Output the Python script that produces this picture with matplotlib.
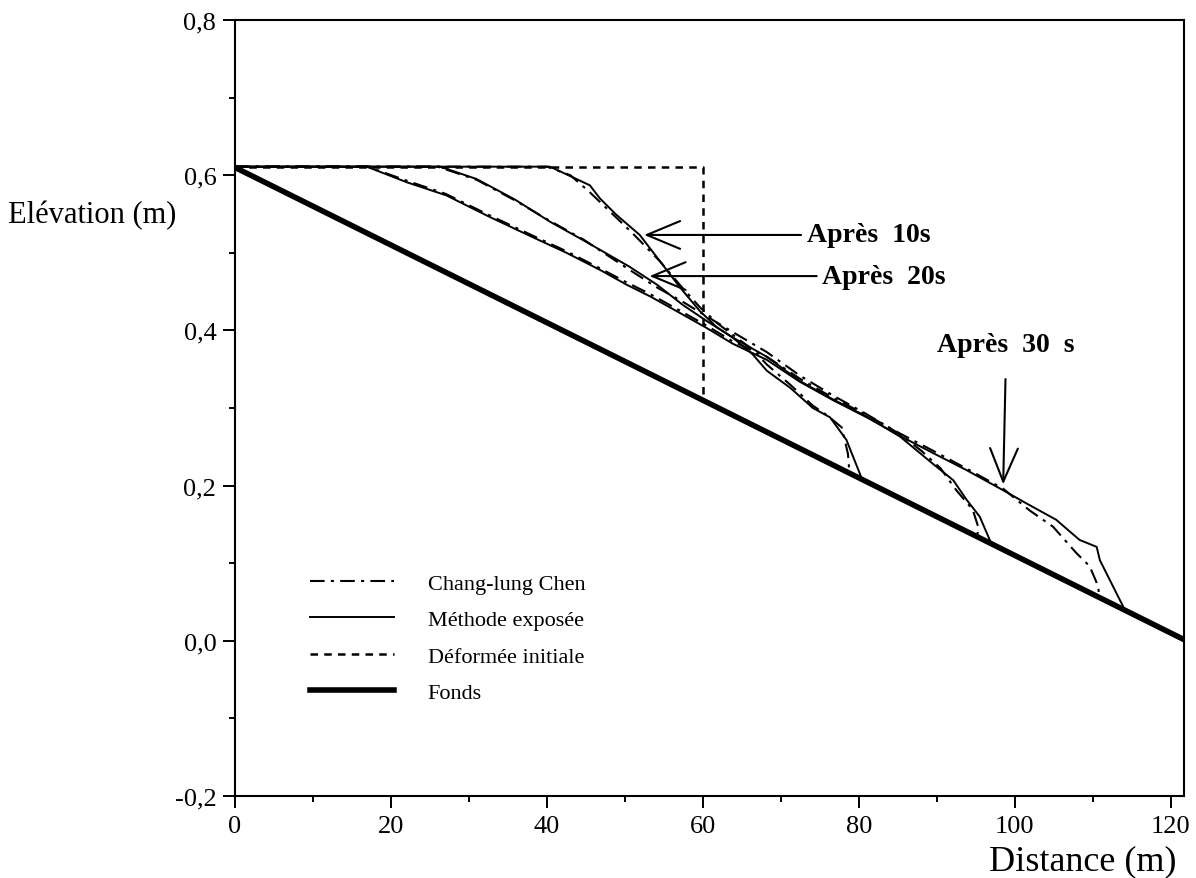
import matplotlib
matplotlib.use("Agg")
import matplotlib.pyplot as plt

plt.rcParams['font.family'] = ['Liberation Serif', 'DejaVu Serif']

# fond (bed)
fond_x = [0, 122]
fond_y = [0.61, 0.0]

# deformee initiale
init_x = [0, 60, 60]
init_y = [0.61, 0.61, 0.31]

# methode exposee
m10_x = [0, 40.4, 45.5, 46.8, 48.9, 51.9, 54.5, 57.1, 59.6, 61.8, 63.8, 66.4, 68.2, 71.2, 74.1, 76.3, 78.4, 80.3]
m10_y = [0.611, 0.611, 0.587, 0.570, 0.549, 0.523, 0.489, 0.455, 0.425, 0.404, 0.391, 0.369, 0.348, 0.326, 0.300, 0.288, 0.259, 0.211]

m20_x = [0, 26.3, 31.0, 36.0, 40.4, 44.7, 50.6, 54.1, 57.4, 60.5, 63.8, 68.2, 72.4, 76.7, 81.0, 85.3, 89.5, 92.1, 93.8, 95.5, 97.0]
m20_y = [0.611, 0.611, 0.595, 0.568, 0.540, 0.516, 0.482, 0.459, 0.433, 0.412, 0.391, 0.366, 0.335, 0.311, 0.289, 0.263, 0.228, 0.207, 0.182, 0.160, 0.125]

m30_x = [0, 16.9, 22.0, 27.1, 32.7, 38.2, 42.5, 46.8, 50.2, 53.2, 56.6, 60.5, 63.8, 68.2, 72.4, 76.7, 81.0, 85.3, 89.5, 93.8, 98.5, 101.5, 105.3, 108.3, 110.5, 110.9, 112.6, 114.1]
m30_y = [0.611, 0.611, 0.591, 0.574, 0.546, 0.520, 0.500, 0.478, 0.459, 0.444, 0.425, 0.403, 0.383, 0.362, 0.334, 0.310, 0.288, 0.264, 0.242, 0.220, 0.194, 0.177, 0.156, 0.130, 0.121, 0.104, 0.070, 0.040]

# Chang-lung Chen
c10_x = [0, 40.0, 43.0, 45.5, 48.1, 51.0, 54.5, 57.1, 59.6, 62.0, 64.0, 66.4, 68.2, 71.2, 74.1, 76.0, 77.8, 78.6, 78.8]
c10_y = [0.611, 0.611, 0.600, 0.578, 0.553, 0.525, 0.489, 0.458, 0.430, 0.408, 0.393, 0.375, 0.356, 0.330, 0.303, 0.290, 0.275, 0.241, 0.215]

c20_x = [0, 26.0, 31.0, 36.0, 40.4, 44.7, 50.6, 54.0, 57.4, 60.5, 63.8, 68.2, 72.4, 76.7, 81.0, 85.3, 88.0, 90.5, 92.5, 94.6, 95.3, 95.2]
c20_y = [0.611, 0.611, 0.594, 0.567, 0.541, 0.517, 0.478, 0.456, 0.437, 0.418, 0.398, 0.372, 0.342, 0.316, 0.292, 0.266, 0.245, 0.222, 0.194, 0.169, 0.147, 0.135]

c30_x = [0, 17.0, 22.0, 27.0, 32.7, 38.2, 42.5, 46.8, 50.2, 53.2, 56.6, 60.5, 63.8, 68.2, 72.4, 76.7, 81.0, 85.3, 89.5, 93.8, 98.5, 101.9, 104.9, 107.9, 109.6, 110.7, 110.8]
c30_y = [0.611, 0.611, 0.593, 0.576, 0.548, 0.522, 0.502, 0.480, 0.462, 0.447, 0.428, 0.406, 0.386, 0.366, 0.338, 0.313, 0.291, 0.267, 0.245, 0.222, 0.196, 0.168, 0.147, 0.113, 0.096, 0.070, 0.057]

x_ticks = [0, 20, 40, 60, 80, 100, 120]
x_labels = ['0', '20', '40', '60', '80', '100', '120']
y_ticks = [-0.2, 0.0, 0.2, 0.4, 0.6, 0.8]
y_labels = ['-0,2', '0,0', '0,2', '0,4', '0,6', '0,8']

fig = plt.figure(figsize=(11.96, 8.79), dpi=100)
ax = fig.add_axes([0.1965, 0.0933, 0.7935, 0.8828])

dashdot = (0, (7, 3, 1.5, 3))
ax.plot(c10_x, c10_y, color='black', lw=1.5, linestyle=dashdot, label='Chang-lung Chen')
ax.plot(c20_x, c20_y, color='black', lw=1.5, linestyle=dashdot)
ax.plot(c30_x, c30_y, color='black', lw=1.5, linestyle=dashdot)
ax.plot(m10_x, m10_y, color='black', lw=1.4, label='Méthode exposée')
ax.plot(m20_x, m20_y, color='black', lw=1.4)
ax.plot(m30_x, m30_y, color='black', lw=1.4)
ax.plot(init_x, init_y, color='black', lw=1.8, linestyle=(0, (3, 2.5)), label='Déformée initiale')
ax.plot(fond_x, fond_y, color='black', lw=4, label='Fonds')

ax.set_xlim(0, 121.7)
ax.set_ylim(-0.2, 0.8)
ax.set_xticks(x_ticks)
ax.set_xticklabels(x_labels)
ax.set_yticks(y_ticks)
ax.set_yticklabels(y_labels)
ax.set_xticks([10, 30, 50, 70, 90, 110], minor=True)
ax.set_yticks([-0.1, 0.1, 0.3, 0.5, 0.7], minor=True)
ax.tick_params(which='major', length=8.5, width=1.4, labelsize=19, pad=5)
ax.tick_params(which='minor', length=4.5, width=1.4)
for s in ax.spines.values():
    s.set_linewidth(1.5)

fig.text(0.007, 1 - 216 / 879, 'Elévation (m)', fontsize=22, ha='left', va='center')
fig.text(0.984, 1 - 862 / 879, 'Distance (m)', fontsize=26, ha='right', va='center')

kw = dict(arrowprops=dict(arrowstyle='->,head_length=1.2,head_width=0.5', lw=1.5, color='black'),
          fontsize=20, fontweight='bold', va='center', ha='left')
ax.annotate('Après  10s', xy=(52.1, 0.523), xytext=(73.3, 0.523), **kw)
ax.annotate('Après  20s', xy=(52.8, 0.470), xytext=(75.3, 0.470), **kw)
ax.annotate('Après  30  s', xy=(98.5, 0.198), xytext=(98.9, 0.382),
            arrowprops=dict(arrowstyle='->,head_length=1.2,head_width=0.5', lw=1.5, color='black',
                            shrinkA=14),
            fontsize=20, fontweight='bold', va='center', ha='center')

ax.legend(loc='upper left', bbox_to_anchor=(0.259, 1 - 574 / 879), bbox_transform=fig.transFigure,
          frameon=False, fontsize=16, handlelength=3.8, handletextpad=1.5,
          labelspacing=0.72, borderpad=0, borderaxespad=0)

fig.savefig('out.png', dpi=100)
